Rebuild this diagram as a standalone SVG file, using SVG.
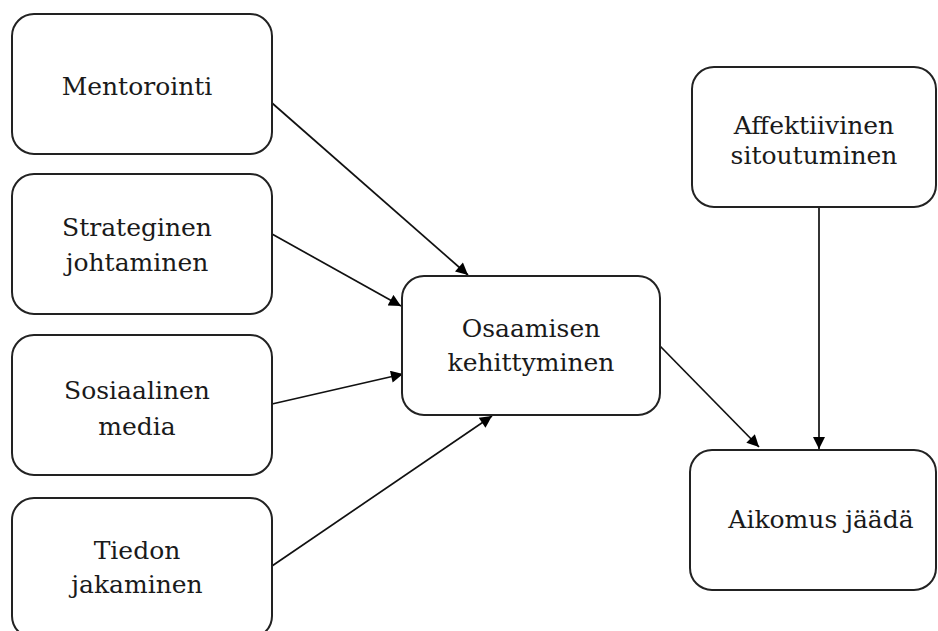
<svg xmlns="http://www.w3.org/2000/svg" width="938" height="631" viewBox="0 0 938 631">
<defs>
<marker id="arr" viewBox="0 0 10 10" refX="10" refY="5" markerWidth="14" markerHeight="12" markerUnits="userSpaceOnUse" orient="auto">
<path d="M0,0 L10,5 L0,10 z" fill="#000"/>
</marker>
<style>
.box{fill:#fff;stroke:#222;stroke-width:2}
.t{font-family:"DejaVu Serif","Liberation Serif",serif;font-size:25px;fill:#1a1a1a;text-anchor:middle}
.c{stroke:#111;stroke-width:1.7;fill:none;marker-end:url(#arr)}
</style>
</defs>
<rect width="938" height="631" fill="#fff"/>
<g id="connectors">
<line class="c" x1="272" y1="103" x2="468" y2="275"/>
<line class="c" x1="272" y1="234" x2="401" y2="306"/>
<line class="c" x1="272" y1="404" x2="403" y2="374"/>
<line class="c" x1="272" y1="566" x2="492" y2="416"/>
<line class="c" x1="660" y1="346" x2="759" y2="447"/>
<line class="c" x1="819" y1="207" x2="819" y2="449"/>
</g>
<g id="mentorointi">
<rect class="box" x="12" y="14" width="260" height="140" rx="22"/>
<text class="t" x="137" y="95">Mentorointi</text>
</g>
<g id="strateginen">
<rect class="box" x="12" y="174" width="260" height="140" rx="22"/>
<text class="t" x="137" y="236">Strateginen</text>
<text class="t" x="137" y="271">johtaminen</text>
</g>
<g id="sosiaalinen">
<rect class="box" x="12" y="335" width="260" height="140" rx="22"/>
<text class="t" x="137" y="399">Sosiaalinen</text>
<text class="t" x="137" y="435">media</text>
</g>
<g id="tiedon">
<rect class="box" x="12" y="498" width="260" height="140" rx="22"/>
<text class="t" x="137" y="559">Tiedon</text>
<text class="t" x="137" y="593">jakaminen</text>
</g>
<g id="osaamisen">
<rect class="box" x="402" y="276" width="258" height="139" rx="22"/>
<text class="t" x="531" y="337">Osaamisen</text>
<text class="t" x="531" y="371">kehittyminen</text>
</g>
<g id="affektiivinen">
<rect class="box" x="692" y="67" width="244" height="140" rx="22"/>
<text class="t" x="814" y="134">Affektiivinen</text>
<text class="t" x="814" y="164">sitoutuminen</text>
</g>
<g id="aikomus">
<rect class="box" x="690" y="450" width="246" height="140" rx="22"/>
<text class="t" x="821" y="528">Aikomus jäädä</text>
</g>
</svg>
